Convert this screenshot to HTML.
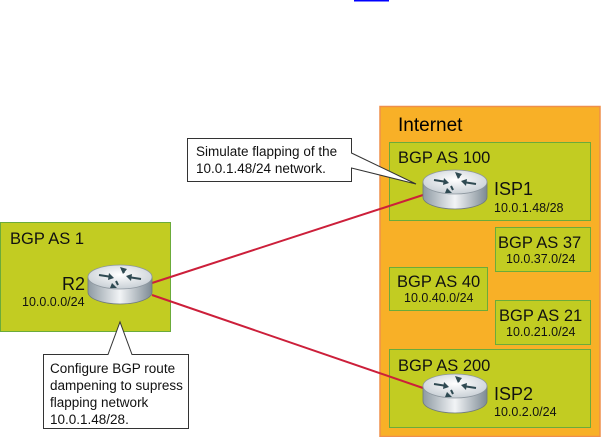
<!DOCTYPE html>
<html><head><style>
body{margin:0;width:601px;height:437px;background:#fff;overflow:hidden;font-family:"Liberation Sans",sans-serif;}
</style></head><body>
<svg width="601" height="437" xmlns="http://www.w3.org/2000/svg" font-family="Liberation Sans, sans-serif">
<defs>
<linearGradient id="side" x1="0" x2="1" y1="0" y2="0">
<stop offset="0" stop-color="#8e9aa3"/><stop offset="0.5" stop-color="#f2f4f6"/><stop offset="1" stop-color="#7d8a94"/>
</linearGradient>
<radialGradient id="top" cx="0.5" cy="0.4" r="0.6">
<stop offset="0" stop-color="#ffffff"/><stop offset="1" stop-color="#c9d0d6"/>
</radialGradient>
<g id="router">
<path d="M-32 0 v15 a32 12 0 0 0 64 0 v-15 z" fill="url(#side)" stroke="#6d7880" stroke-width="0.8"/>
<ellipse cx="0" cy="0" rx="32" ry="12" fill="url(#top)" stroke="#8c969e" stroke-width="0.8"/>
<g fill="#2f4a52" stroke="#2f4a52" stroke-width="2">
<line x1="-21" y1="-2" x2="-8" y2="0"/><polygon points="-6,1 -11,-4 -12,3" stroke="none"/>
<line x1="21" y1="2" x2="8" y2="0"/><polygon points="6,-1 11,4 12,-3" stroke="none"/>
<line x1="-2" y1="8" x2="-4" y2="4"/><polygon points="-8,7 -1,7 -6,2" stroke="none" transform="translate(-2,4)"/>
<line x1="2" y1="-8" x2="4" y2="-4"/><polygon points="0,-10 7,-8 3,-3" stroke="none"/>
</g>
</g>
</defs>
<rect x="354" y="0" width="35" height="1.5" fill="#0000ff"/>
<rect x="380" y="106.5" width="220" height="330" fill="#f8b027" stroke="#ef8f4a" stroke-width="1.5"/>
<text x="398" y="131" font-size="19">Internet</text>
<g fill="#c2cc22" stroke="#6bab3a" stroke-width="1">
<rect x="389.5" y="142.5" width="201" height="78"/>
<rect x="495.5" y="227.5" width="95" height="44"/>
<rect x="389.5" y="267.5" width="98" height="43"/>
<rect x="495.5" y="300.5" width="95" height="44"/>
<rect x="389.5" y="349.5" width="201" height="78"/>
<rect x="0.5" y="222.5" width="170" height="109"/>
</g>
<g font-size="16.5" fill="#111">
<text x="398" y="163">BGP AS 100</text>
<text x="498" y="248">BGP AS 37</text>
<text x="397" y="287">BGP AS 40</text>
<text x="499" y="321">BGP AS 21</text>
<text x="398" y="371">BGP AS 200</text>
<text x="10" y="244">BGP AS 1</text>
<text x="494" y="195" font-size="18">ISP1</text>
<text x="494" y="400" font-size="18">ISP2</text>
<text x="62" y="290" font-size="18">R2</text>
</g>
<g font-size="12.5" fill="#111">
<text x="494" y="212">10.0.1.48/28</text>
<text x="506" y="263">10.0.37.0/24</text>
<text x="404" y="302">10.0.40.0/24</text>
<text x="506" y="336">10.0.21.0/24</text>
<text x="494" y="416">10.0.2.0/24</text>
<text x="22" y="306">10.0.0.0/24</text>
</g>
<line x1="152" y1="283" x2="423" y2="195" stroke="#cc1f3a" stroke-width="2"/>
<line x1="152" y1="295" x2="423" y2="388" stroke="#cc1f3a" stroke-width="2"/>
<use href="#router" x="120" y="277"/>
<use href="#router" x="455" y="182"/>
<use href="#router" x="455" y="386"/>
<path d="M187.5 138.5 H351.5 V153 L416 184 L351.5 168 V181.5 H187.5 Z" fill="#fff" stroke="#333" stroke-width="1"/>
<text x="196" y="156" font-size="13.5" fill="#111">Simulate flapping of the</text>
<text x="196" y="173" font-size="13.5" fill="#111">10.0.1.48/24 network.</text>
<path d="M43.5 354.5 H108 L120 322 L132 354.5 H188.5 V428.5 H43.5 Z" fill="#fff" stroke="#333" stroke-width="1"/>
<g font-size="13.5" fill="#111">
<text x="50" y="373">Configure BGP route</text>
<text x="50" y="390">dampening to supress</text>
<text x="50" y="407">flapping network</text>
<text x="50" y="424">10.0.1.48/28.</text>
</g>
</svg>
</body></html>
